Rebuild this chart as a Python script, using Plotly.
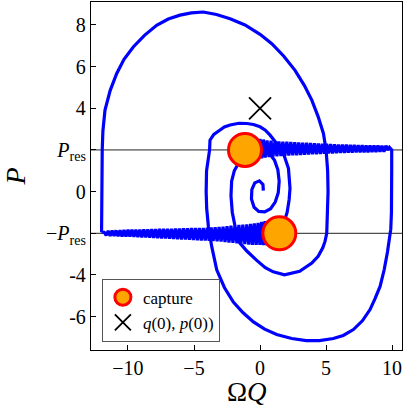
import plotly.graph_objects as go

P_RES = 2.0

# outer spiral: left wall -> big top loop -> middle loop -> into first capture
top_loop = [
    (-12.0, -1.95), (-12.0, -1.0), (-12.0, 0.0), (-12.0, 1.0), (-11.95, 2.0),
    (-11.9, 2.9), (-11.74, 3.91), (-11.35, 4.85), (-10.86, 5.66), (-10.3, 6.35),
    (-9.6, 6.94), (-8.75, 7.5), (-7.83, 7.98), (-6.95, 8.28), (-6.06, 8.47),
    (-5.2, 8.58), (-4.3, 8.62), (-3.3, 8.5), (-2.27, 8.3), (-1.14, 8.0),
    (0.0, 7.55), (0.89, 7.1), (1.8, 6.5), (2.65, 5.82), (3.35, 5.1),
    (3.92, 4.39), (4.4, 3.6), (4.8, 2.79), (5.0, 2.0), (5.12, 1.0),
    (5.15, 0.0), (5.1, -1.0), (5.05, -2.0), (4.92, -2.39), (4.75, -2.7),
    (4.4, -3.1), (3.92, -3.43), (3.0, -3.82), (1.85, -3.99), (1.0, -3.85),
    (0.4, -3.65), (-0.25, -3.3), (-1.0, -2.85), (-1.52, -2.47), (-1.85, -1.8),
    (-2.1, -1.0), (-2.2, -0.2), (-2.15, 0.5), (-1.95, 1.0), (-1.55, 1.45),
    (-1.3, 1.75),
]

# captured at +P_res, drifting right
band_up = [
    (-1.05, 2.55), (-0.92, 1.55), (-0.79, 2.57), (-0.66, 1.55), (-0.53, 2.56),
    (-0.40, 1.57), (-0.27, 2.55), (-0.14, 1.58), (-0.01, 2.53), (0.12, 1.6),
    (0.25, 2.5), (0.39, 1.63), (0.53, 2.46), (0.68, 1.66), (0.83, 2.44),
    (0.98, 1.68), (1.13, 2.42), (1.28, 1.7), (1.43, 2.41), (1.58, 1.71),
    (1.73, 2.4), (1.88, 1.72), (2.03, 2.39), (2.18, 1.73), (2.33, 2.38),
    (2.48, 1.74), (2.63, 2.37), (2.78, 1.75), (2.93, 2.36), (3.08, 1.76),
    (3.23, 2.35), (3.38, 1.77), (3.53, 2.34), (3.68, 1.78), (3.83, 2.33),
    (3.98, 1.79), (4.13, 2.32), (4.28, 1.8), (4.43, 2.31), (4.58, 1.81),
    (4.73, 2.3), (4.88, 1.82), (5.03, 2.29), (5.18, 1.83), (5.33, 2.28),
    (5.48, 1.84), (5.63, 2.27), (5.78, 1.85), (5.93, 2.26), (6.08, 1.86),
    (6.23, 2.25), (6.38, 1.86), (6.53, 2.25), (6.68, 1.87), (6.83, 2.24),
    (6.98, 1.87), (7.13, 2.24), (7.28, 1.88), (7.43, 2.23), (7.58, 1.88),
    (7.73, 2.23), (7.88, 1.89), (8.03, 2.22), (8.18, 1.89), (8.33, 2.22),
    (8.48, 1.9), (8.63, 2.21), (8.78, 1.9), (8.93, 2.21), (9.08, 1.91),
    (9.23, 2.2), (9.38, 1.91), (9.53, 2.2), (9.68, 2.0), (9.8, 2.12),
]

# right wall -> big bottom loop -> small top arc -> into second capture
bottom_loop = [
    (9.97, 2.0), (9.97, 1.0), (9.97, 0.0), (9.95, -1.0), (9.9, -1.8),
    (9.82, -2.2), (9.65, -2.9), (9.4, -3.75), (9.09, -4.55), (8.7, -5.15),
    (8.33, -5.66), (7.75, -6.2), (7.07, -6.62), (6.3, -6.9), (5.55, -7.05),
    (4.5, -7.15), (3.5, -7.15), (2.4, -7.05), (1.26, -6.86), (0.35, -6.6),
    (-0.5, -6.25), (-1.3, -5.8), (-2.02, -5.3), (-2.7, -4.6), (-3.28, -3.75),
    (-3.66, -2.63), (-3.91, -1.67), (-4.04, -0.8), (-4.08, 0.0), (-4.05, 1.0),
    (-3.91, 1.52), (-3.82, 2.0), (-3.79, 2.47), (-3.5, 2.75), (-3.16, 2.9),
    (-2.7, 3.1), (-2.27, 3.2), (-1.6, 3.28), (-1.0, 3.27), (-0.5, 3.22),
    (0.0, 3.11), (0.4, 2.95), (0.76, 2.71), (1.26, 2.31), (1.64, 2.08),
    (1.9, 1.6), (2.15, 1.12), (2.27, 0.16), (2.2, -0.4), (2.05, -1.0),
    (1.8, -1.5),
]

# captured at -P_res, drifting left
band_down = [
    (1.55, -2.55), (1.42, -1.4), (1.29, -2.56), (1.16, -1.38), (1.03, -2.56),
    (0.9, -1.38), (0.77, -2.57), (0.64, -1.4), (0.51, -2.57), (0.38, -1.42),
    (0.25, -2.57), (0.12, -1.45), (-0.01, -2.56), (-0.15, -1.5), (-0.29, -2.56),
    (-0.43, -1.53), (-0.57, -2.55), (-0.71, -1.55), (-0.85, -2.54), (-1.0, -1.57),
    (-1.15, -2.52), (-1.3, -1.58), (-1.45, -2.5), (-1.6, -1.6), (-1.75, -2.48),
    (-1.9, -1.62), (-2.05, -2.46), (-2.2, -1.64), (-2.35, -2.44), (-2.5, -1.66),
    (-2.65, -2.42), (-2.8, -1.68), (-2.95, -2.4), (-3.1, -1.7), (-3.25, -2.38),
    (-3.4, -1.71), (-3.55, -2.37), (-3.7, -1.72), (-3.85, -2.36), (-4.0, -1.73),
    (-4.15, -2.35), (-4.3, -1.74), (-4.45, -2.34), (-4.6, -1.74), (-4.75, -2.33),
    (-4.9, -1.75), (-5.05, -2.32), (-5.2, -1.75), (-5.35, -2.31), (-5.5, -1.76),
    (-5.65, -2.3), (-5.8, -1.76), (-5.95, -2.29), (-6.1, -1.77), (-6.25, -2.28),
    (-6.4, -1.77), (-6.55, -2.27), (-6.7, -1.78), (-6.85, -2.26), (-7.0, -1.78),
    (-7.15, -2.25), (-7.3, -1.79), (-7.45, -2.24), (-7.6, -1.79), (-7.75, -2.23),
    (-7.9, -1.8), (-8.05, -2.22), (-8.2, -1.8), (-8.35, -2.21), (-8.5, -1.81),
    (-8.65, -2.2), (-8.8, -1.81), (-8.95, -2.19), (-9.1, -1.82), (-9.25, -2.18),
    (-9.4, -1.82), (-9.55, -2.17), (-9.7, -1.83), (-9.85, -2.16), (-10.0, -1.83),
    (-10.15, -2.15), (-10.3, -1.84), (-10.45, -2.15), (-10.6, -1.85), (-10.75, -2.14),
    (-10.9, -1.86), (-11.05, -2.13), (-11.2, -1.87), (-11.35, -2.12), (-11.5, -1.88),
    (-11.65, -2.1), (-11.8, -1.95), (-12.0, -1.95),
]

# inner spiral joining the +P_res band
curl = [
    (0.25, 0.05), (0.22, 0.35), (-0.05, 0.52), (-0.4, 0.42), (-0.62, 0.1),
    (-0.65, -0.35), (-0.45, -0.75), (-0.1, -0.95), (0.35, -0.97), (0.8, -0.82),
    (1.15, -0.5), (1.38, -0.05), (1.45, 0.5), (1.35, 1.05), (1.1, 1.5),
    (0.75, 1.8),
]

capture_q = [-1.14, 1.46]
capture_p = [2.0, -2.0]
q0, p0 = [0.0], [4.0]

yticks = [8, 6, 4, 2, 0, -2, -4, -6]
yticktext = ["8", "6", "4", "<i>P</i><sub>res</sub>", "0",
             "\u2212<i>P</i><sub>res</sub>", "-4", "-6"]
xticks = [-10, -5, 0, 5, 10]
xticktext = ["\u221210", "\u22125", "0", "5", "10"]

FONT = "Liberation Serif"
BLUE = "#0000ff"

path = top_loop + band_up + bottom_loop + band_down

fig = go.Figure()
fig.add_trace(go.Scatter(
    x=[q for q, _ in path], y=[p for _, p in path], mode="lines",
    line=dict(color=BLUE, width=3.2), showlegend=False, hoverinfo="skip",
))
fig.add_trace(go.Scatter(
    x=[q for q, _ in curl], y=[p for _, p in curl], mode="lines",
    line=dict(color=BLUE, width=3.2), showlegend=False, hoverinfo="skip",
))
fig.add_trace(go.Scatter(
    x=capture_q, y=capture_p, mode="markers", name="capture",
    marker=dict(size=33, color="#ffa500", line=dict(color="#ff0000", width=3)),
))
fig.add_trace(go.Scatter(
    x=q0, y=p0, mode="markers", name="<i>q</i>(0), <i>p</i>(0))",
    marker=dict(symbol="x-thin", size=22, color="black",
                line=dict(color="black", width=1.8)),
))

for lvl in (P_RES, -P_RES):
    fig.add_shape(type="line", xref="paper", x0=0, x1=1, yref="y", y0=lvl, y1=lvl,
                  line=dict(color="#222222", width=1), layer="below")

# axis titles placed as annotations so the frame keeps its size
fig.add_annotation(text="\u03a9<i>Q</i>", xref="paper", yref="paper", x=0.5, y=-0.121,
                   xanchor="center", yanchor="middle",
                   showarrow=False, font=dict(size=27, family=FONT))
fig.add_annotation(text="<i>P</i>", xref="paper", yref="paper", x=-0.243, y=0.5,
                   xanchor="center", yanchor="middle",
                   textangle=-90, showarrow=False, font=dict(size=28, family=FONT))

axis = dict(showline=True, mirror=True, linecolor="black", linewidth=1.3,
            ticks="inside", ticklen=5, tickwidth=1, tickcolor="black",
            showgrid=False, zeroline=False, automargin=False,
            tickfont=dict(size=20, family=FONT))
fig.update_xaxes(range=[-12.8, 10.75], tickvals=xticks, ticktext=xticktext, **axis)
fig.update_yaxes(range=[-7.6, 9.1], tickvals=yticks, ticktext=yticktext, **axis)
fig.update_layout(
    width=407, height=407,
    margin=dict(l=91, r=5, t=2, b=57, autoexpand=False),
    plot_bgcolor="white", paper_bgcolor="white",
    font=dict(family=FONT, color="black"),
    legend=dict(x=0.035, y=0.205, xanchor="left", yanchor="top",
                bgcolor="white", bordercolor="#555555", borderwidth=1,
                font=dict(size=17, family=FONT), itemwidth=30, tracegroupgap=0),
)

# drop the page's default body margin so the figure sits at the window corner
fig.write_html("out.html", config={"displayModeBar": False},
               post_script="document.body.style.margin='0px';")
